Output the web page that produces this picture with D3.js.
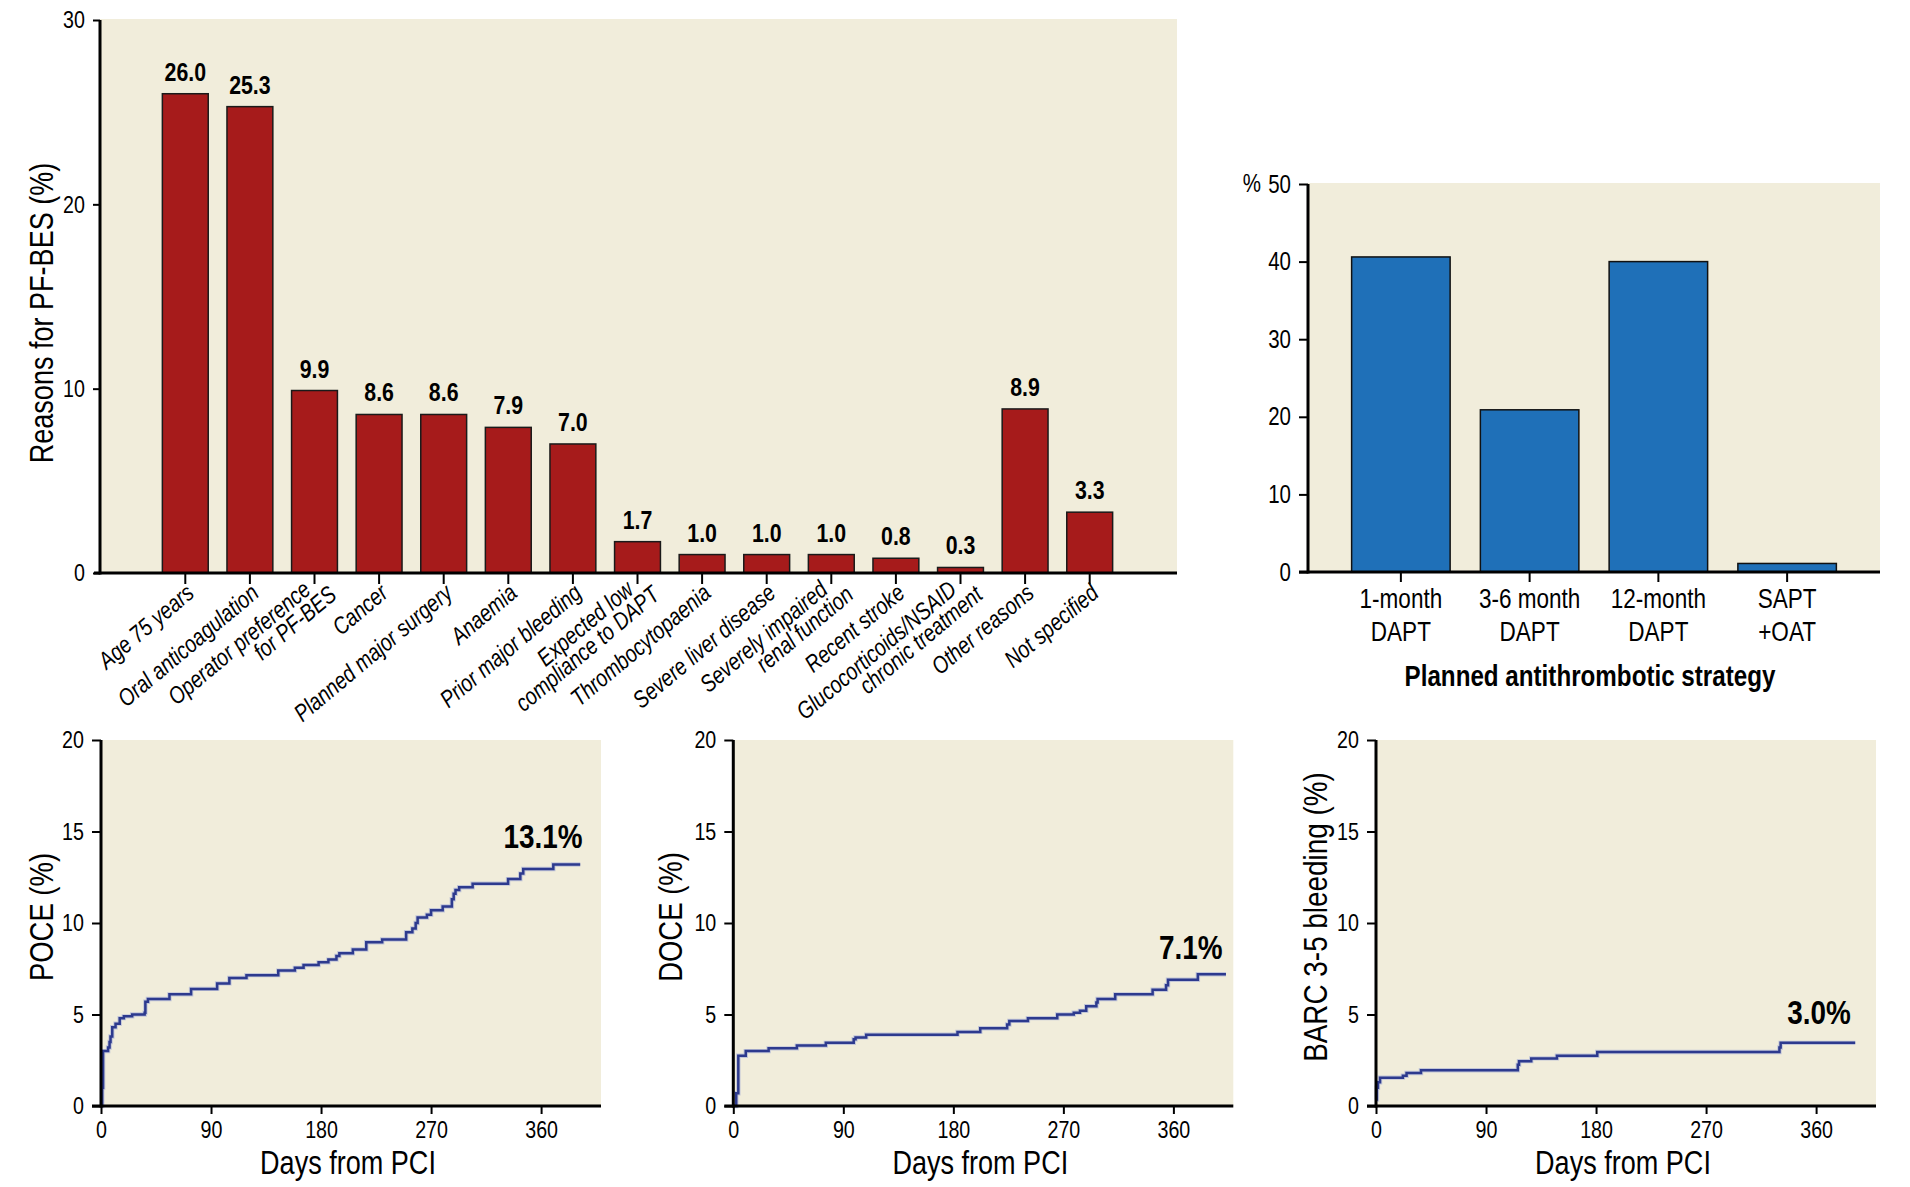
<!DOCTYPE html>
<html><head><meta charset="utf-8">
<script src="https://cdn.jsdelivr.net/npm/d3@7/dist/d3.min.js"></script>
<style>
html,body{margin:0;padding:0;background:#fff;}
svg{display:block;}
</style></head><body>
<svg id="c" width="1910" height="1187"></svg>
<script>
// ---------- DATA ----------
const reasonLabels = ["Age 75 years","Oral anticoagulation","Operator preference\nfor PF-BES","Cancer",
  "Planned major surgery","Anaemia","Prior major bleeding","Expected low\ncompliance to DAPT",
  "Thrombocytopaenia","Severe liver disease","Severely impaired\nrenal function","Recent stroke",
  "Glucocorticoids/NSAID\nchronic treatment","Other reasons","Not specified"];
const reasonPct = [26.0,25.3,9.9,8.6,8.6,7.9,7.0,1.7,1.0,1.0,1.0,0.8,0.3,8.9,3.3];
const reasonTicks = [0,10,20,30];

const strategyLabels = ["1-month\nDAPT","3-6 month\nDAPT","12-month\nDAPT","SAPT\n+OAT"];
const strategyPct = [40.6,20.9,40.0,1.1];
const strategyTicks = [0,10,20,30,40,50];
const strategyTitle = "Planned antithrombotic strategy";

const kmDayTicks = [0,90,180,270,360];
const kmPctTicks = [0,5,10,15,20];

const poceDays = [0,1,1.7,5.8,7,7.8,9.2,11.9,15.3,18.7,25.5,35.7,36.3,38.4,56,73.7,95,105,119,145,158.6,165.7,178,186,192.6,195,206,217,230,249.6,254.7,257.4,259,266.6,270,279.5,287,288.5,290,293,304,333,343,345.4,370];
const poceRisk = [0,1.0,3.0,3.2,3.5,3.8,4.3,4.5,4.8,4.9,5.0,5.1,5.7,5.85,6.1,6.4,6.7,7.0,7.15,7.4,7.55,7.7,7.85,8.0,8.2,8.35,8.55,8.95,9.1,9.5,9.7,10.0,10.3,10.45,10.7,10.9,11.3,11.6,11.8,11.95,12.15,12.4,12.7,12.95,13.2];
const poceEnd = 392;

const doceDays = [0,2.4,4.1,10.2,28.9,52,75.7,98.5,100,108.7,183.4,202,224,225.8,241,265,278.5,283.6,288.7,297,298,312.4,343,354,355.6,380];
const doceRisk = [0,0.7,2.75,3.0,3.15,3.3,3.45,3.65,3.75,3.9,4.05,4.25,4.45,4.65,4.8,5.0,5.1,5.2,5.45,5.65,5.85,6.1,6.35,6.6,6.9,7.2];
const doceEnd = 403;

const barcDays = [0,0.7,1.6,3.3,22,25,36.8,116,117,127,148,181,330,331];
const barcRisk = [0.35,1.0,1.3,1.55,1.65,1.8,1.95,2.25,2.45,2.6,2.75,2.95,3.2,3.45];
const barcEnd = 392;

const kmPanels = [
  {title:"POCE (%)", days:poceDays, risk:poceRisk, end:poceEnd, note:"13.1%"},
  {title:"DOCE (%)", days:doceDays, risk:doceRisk, end:doceEnd, note:"7.1%"},
  {title:"BARC 3-5 bleeding (%)", days:barcDays, risk:barcRisk, end:barcEnd, note:"3.0%"}
];

// ---------- STYLE ----------
const FONT = '"Liberation Sans", Arial, sans-serif';
const S = 0.82; // horizontal condensing of the type
const BG = "#f1eddb";
const RED = "#a61b1b";
const BLUE = "#1f70b8";
const LINE = "#2d3a8e";

const svg = d3.select("#c");

function narrow(sel){
  sel.each(function(){
    const t = d3.select(this);
    const x = +(t.attr("x") || 0);
    const tr = t.attr("transform") || "";
    t.attr("x", x / S).attr("transform", (tr + ` scale(${S},1)`).trim());
  });
}

function styleAxis(g, size){
  g.select(".domain").remove();
  g.selectAll(".tick line").attr("stroke","#000").attr("stroke-width",2);
  g.selectAll(".tick text").attr("font-family",FONT).attr("font-size",size).attr("fill","#000").call(narrow);
}

// ---------- PANEL A ----------
(function(){
  const L=100, R=1177, x = d3.scaleBand().domain(reasonLabels).range([153,1122]).paddingInner(0.29).paddingOuter(0.145);
  const y = d3.scaleLinear().domain([0,30]).range([573,20]);
  const g = svg.append("g");
  g.append("rect").attr("x",L).attr("y",y(30)-1).attr("width",R-L).attr("height",y(0)-y(30)+1).attr("fill",BG);
  g.selectAll("rect.bar").data(reasonPct).join("rect").attr("class","bar")
    .attr("x",(d,i)=>x(reasonLabels[i])).attr("width",x.bandwidth())
    .attr("y",d=>y(d)).attr("height",d=>y(0)-y(d))
    .attr("fill",RED).attr("stroke","#1a1a1a").attr("stroke-width",1.5);
  g.selectAll("text.val").data(reasonPct).join("text").attr("class","val")
    .attr("x",(d,i)=>x(reasonLabels[i])+x.bandwidth()/2).attr("y",d=>y(d)-13)
    .attr("text-anchor","middle").attr("font-family",FONT).attr("font-weight","bold").attr("font-size",26)
    .text(d=>d.toFixed(1)).call(narrow);
  const ya = g.append("g").attr("transform",`translate(${L},0)`)
    .call(d3.axisLeft(y).tickValues(reasonTicks).tickSize(7).tickPadding(8).tickSizeOuter(0));
  styleAxis(ya,24);
  const xa = g.append("g").attr("transform",`translate(0,${y(0)})`)
    .call(d3.axisBottom(x).tickSize(11).tickSizeOuter(0));
  xa.selectAll(".tick text").remove();
  styleAxis(xa,24);
  g.append("line").attr("x1",L).attr("x2",L).attr("y1",y(30)).attr("y2",y(0)+1.5).attr("stroke","#000").attr("stroke-width",3);
  g.append("line").attr("x1",L-6).attr("x2",R).attr("y1",y(0)).attr("y2",y(0)).attr("stroke","#000").attr("stroke-width",3);
  const lab = g.selectAll("g.xl").data(reasonLabels).join("g").attr("class","xl")
    .attr("transform",d=>`translate(${x(d)+x.bandwidth()/2},584) rotate(-40)`);
  lab.each(function(d){
    const lines=d.split("\n"), s=d3.select(this);
    const t = (xx,yy,txt)=>s.append("text").attr("x",xx).attr("y",yy).attr("text-anchor","end")
      .attr("font-family",FONT).attr("font-style","italic").attr("font-size",24).text(txt).call(narrow);
    if(lines.length===1) t(0.5,15.5,lines[0]);
    else { t(-7,4.8,lines[0]); t(9.5,25.4,lines[1]); }
  });
  g.append("text").attr("transform",`translate(53,313) rotate(-90)`).attr("text-anchor","middle")
    .attr("font-family",FONT).attr("font-size",33).text("Reasons for PF-BES (%)").call(narrow);
})();

// ---------- PANEL C ----------
(function(){
  const L=1308, R=1880;
  const x = d3.scaleBand().domain(strategyLabels).range([1336.5,1851.5]).paddingInner(0.235).paddingOuter(0.1175);
  const y = d3.scaleLinear().domain([0,50]).range([572,184]);
  const g = svg.append("g");
  g.append("rect").attr("x",L).attr("y",y(50)-1).attr("width",R-L).attr("height",y(0)-y(50)+1).attr("fill",BG);
  g.selectAll("rect.bar").data(strategyPct).join("rect").attr("class","bar")
    .attr("x",(d,i)=>x(strategyLabels[i])).attr("width",x.bandwidth())
    .attr("y",d=>y(d)).attr("height",d=>y(0)-y(d))
    .attr("fill",BLUE).attr("stroke","#111").attr("stroke-width",1.5);
  const ya = g.append("g").attr("transform",`translate(${L},0)`)
    .call(d3.axisLeft(y).tickValues(strategyTicks).tickSize(9).tickPadding(8).tickSizeOuter(0));
  styleAxis(ya,25);
  g.append("text").attr("x",1261).attr("y",y(50)).attr("dy","0.32em").attr("text-anchor","end")
    .attr("font-family",FONT).attr("font-size",25).text("%").call(narrow);
  const xa = g.append("g").attr("transform",`translate(0,${y(0)})`)
    .call(d3.axisBottom(x).tickSize(10).tickSizeOuter(0));
  xa.selectAll(".tick text").remove();
  styleAxis(xa,25);
  g.append("line").attr("x1",L).attr("x2",L).attr("y1",y(50)).attr("y2",y(0)+1.5).attr("stroke","#000").attr("stroke-width",3);
  g.append("line").attr("x1",L-9).attr("x2",R).attr("y1",y(0)).attr("y2",y(0)).attr("stroke","#000").attr("stroke-width",3);
  strategyLabels.forEach(d=>{
    d.split("\n").forEach((ln,j)=>{
      g.append("text").attr("x",x(d)+x.bandwidth()/2).attr("y",608+j*33).attr("text-anchor","middle")
        .attr("font-family",FONT).attr("font-size",27.5).text(ln).call(narrow);
    });
  });
  g.append("text").attr("x",1590).attr("y",686).attr("text-anchor","middle")
    .attr("font-family",FONT).attr("font-weight","bold").attr("font-size",29.5).text(strategyTitle).call(narrow);
})();

// ---------- KM PANELS ----------
const kmX0 = [101,733.3,1376];
const kmTitleX = [53,682,1327];
const kmNote = [{x:582.5,y:848},{x:1222.5,y:959},{x:1850.7,y:1023.7}];
kmPanels.forEach((p,k)=>{
  const x0=kmX0[k], x = d3.scaleLinear().domain([0,409]).range([x0,x0+500]);
  const y = d3.scaleLinear().domain([0,20]).range([1106,740]);
  const g = svg.append("g");
  g.append("rect").attr("x",x0).attr("y",y(20)).attr("width",500).attr("height",y(0)-y(20)).attr("fill",BG);
  const pts = p.days.map((d,i)=>[d,p.risk[i]]);
  pts.push([p.end,p.risk[p.risk.length-1]]);
  const line = d3.line().x(d=>x(d[0])).y(d=>y(d[1])).curve(d3.curveStepAfter);
  g.append("path").attr("d",line(pts)).attr("fill","none").attr("stroke","#9aa6d6").attr("stroke-width",4.4).attr("opacity",0.55);
  g.append("path").attr("d",line(pts)).attr("fill","none").attr("stroke",LINE).attr("stroke-width",2.5);
  const ya = g.append("g").attr("transform",`translate(${x0},0)`)
    .call(d3.axisLeft(y).tickValues(kmPctTicks).tickSize(9).tickPadding(8).tickSizeOuter(0));
  styleAxis(ya,24);
  const xa = g.append("g").attr("transform",`translate(0,${y(0)})`)
    .call(d3.axisBottom(x).tickValues(kmDayTicks).tickSize(8).tickPadding(7).tickSizeOuter(0));
  styleAxis(xa,24);
  g.append("line").attr("x1",x0).attr("x2",x0).attr("y1",y(20)).attr("y2",y(0)+1.5).attr("stroke","#000").attr("stroke-width",3);
  g.append("line").attr("x1",x0-9).attr("x2",x0+500).attr("y1",y(0)).attr("y2",y(0)).attr("stroke","#000").attr("stroke-width",3);
  g.append("text").attr("transform",`translate(${kmTitleX[k]},917) rotate(-90)`).attr("text-anchor","middle")
    .attr("font-family",FONT).attr("font-size",k===2?34:33.5).text(p.title).call(narrow);
  g.append("text").attr("x",x0+247).attr("y",1174).attr("text-anchor","middle")
    .attr("font-family",FONT).attr("font-size",33).text("Days from PCI").call(narrow);
  g.append("text").attr("x",kmNote[k].x).attr("y",kmNote[k].y).attr("text-anchor","end")
    .attr("font-family",FONT).attr("font-weight","bold").attr("font-size",34).text(p.note).call(narrow);
});
</script></body></html>
